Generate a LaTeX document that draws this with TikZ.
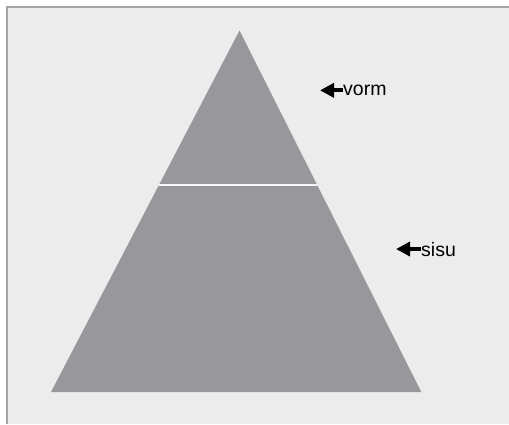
\documentclass[tikz,border=0pt]{standalone}
\usepackage{fontspec}
\setmainfont{Liberation Sans}
\definecolor{fondo}{HTML}{EBECEB}
\definecolor{marco}{HTML}{A4A4A4}
\definecolor{piramide}{HTML}{98979B}
\usetikzlibrary{arrows.meta}
\begin{document}
\begin{tikzpicture}[x=1pt, y=-1pt, >={Triangle[length=14pt, width=14pt]}]
      \def\ancho{509}
      \def\alto{424}
      \def\corte{185}

      \useasboundingbox (0,0) rectangle (\ancho,\alto);

      % Fondo
      \fill[white] (0,0) rectangle (\ancho,\alto);
      \fill[fondo] (7,7) rectangle (\ancho,\alto);
      \draw[marco, line width=2pt] (7,\alto) -- (7,7) -- (\ancho,7);

      % Piramide
      \fill[piramide] (51,392) -- (421.3,392) -- (239.5,30.5) -- cycle;
      \begin{scope}
        \clip (51,392) -- (421.3,392) -- (239.5,30.5) -- cycle;
        \draw[fondo!40!white, line width=2.6pt] (0,\corte) -- (\ancho,\corte);
      \end{scope}

      % Etiquetas
      \node[anchor=base west, inner sep=0pt, font=\fontsize{19.5}{20}\selectfont] (vorm) at (343,95.5) {vorm};
      \node[anchor=base west, inner sep=0pt, font=\fontsize{19.5}{20}\selectfont] (sisu) at (421,256) {sisu};
      \coordinate (vormtip) at (320,90.5);
      \coordinate (sisutip) at (396,249);

      \draw[line width=4pt, ->] (vorm.west) -- (vorm.west -| vormtip);
      \draw[line width=4pt, ->] (sisu.west) -- (sisu.west -| sisutip);
    \end{tikzpicture}
\end{document}
